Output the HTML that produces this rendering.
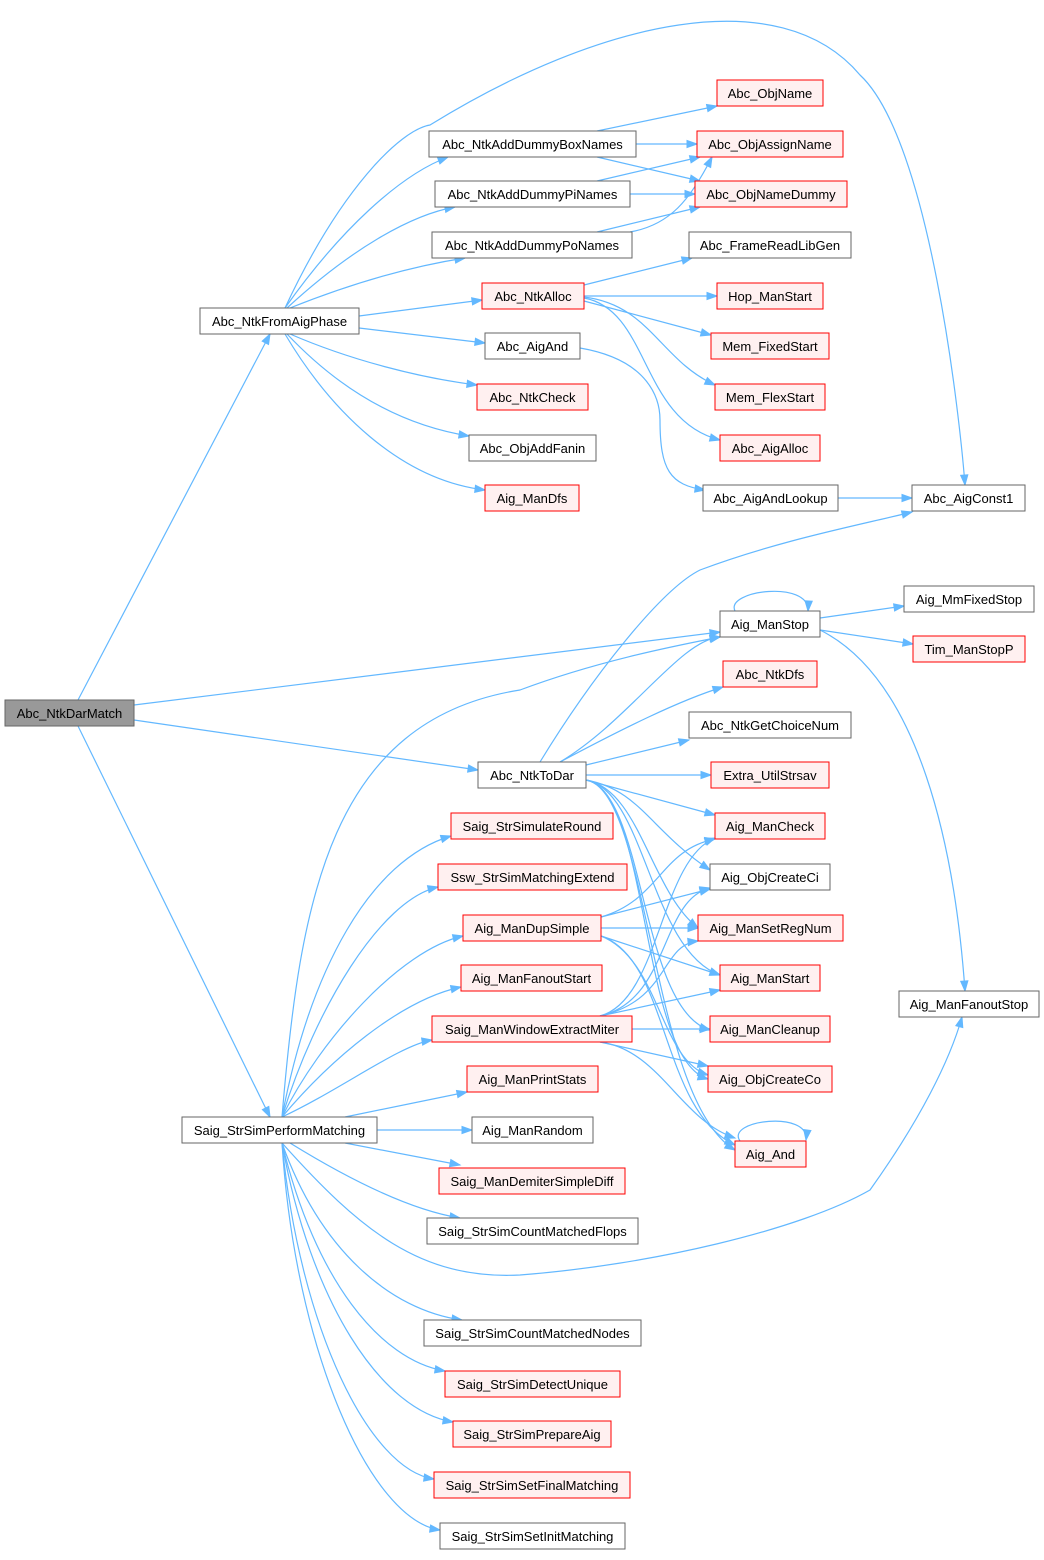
<!DOCTYPE html>
<html><head><meta charset="utf-8"><style>
html,body{margin:0;padding:0;background:#fff;}
svg text{font-family:"Liberation Sans",Arial,sans-serif;font-size:13px;}
</style></head><body>
<svg id="g" width="1044" height="1555" viewBox="0 0 1044 1555" xmlns="http://www.w3.org/2000/svg">
<g id="edges" fill="none" stroke="#63b8ff" stroke-width="1.2"></g>
<g id="heads" fill="#63b8ff" stroke="#63b8ff"></g>
<g id="nodes" stroke-width="1">
<rect x="5" y="700" width="129" height="26" fill="#999" stroke="#666"/><text x="69.5" y="718" text-anchor="middle">Abc_NtkDarMatch</text>
<rect x="200" y="308" width="159" height="26" fill="#fff" stroke="#666"/><text x="279.5" y="326" text-anchor="middle">Abc_NtkFromAigPhase</text>
<rect x="182" y="1117" width="195" height="26" fill="#fff" stroke="#666"/><text x="279.5" y="1135" text-anchor="middle">Saig_StrSimPerformMatching</text>

<rect x="429" y="131" width="207" height="26" fill="#fff" stroke="#666"/><text x="532.5" y="149" text-anchor="middle">Abc_NtkAddDummyBoxNames</text>
<rect x="435" y="181" width="195" height="26" fill="#fff" stroke="#666"/><text x="532.5" y="199" text-anchor="middle">Abc_NtkAddDummyPiNames</text>
<rect x="432" y="232" width="200" height="26" fill="#fff" stroke="#666"/><text x="532" y="250" text-anchor="middle">Abc_NtkAddDummyPoNames</text>
<rect x="482" y="283" width="102" height="26" fill="#fff0f0" stroke="#f00"/><text x="533" y="301" text-anchor="middle">Abc_NtkAlloc</text>
<rect x="485" y="333" width="95" height="26" fill="#fff" stroke="#666"/><text x="532.5" y="351" text-anchor="middle">Abc_AigAnd</text>
<rect x="477" y="384" width="111" height="26" fill="#fff0f0" stroke="#f00"/><text x="532.5" y="402" text-anchor="middle">Abc_NtkCheck</text>
<rect x="469" y="435" width="127" height="26" fill="#fff" stroke="#666"/><text x="532.5" y="453" text-anchor="middle">Abc_ObjAddFanin</text>
<rect x="485" y="485" width="94" height="26" fill="#fff0f0" stroke="#f00"/><text x="532" y="503" text-anchor="middle">Aig_ManDfs</text>
<rect x="478" y="762" width="108" height="26" fill="#fff" stroke="#666"/><text x="532" y="780" text-anchor="middle">Abc_NtkToDar</text>
<rect x="451" y="813" width="162" height="26" fill="#fff0f0" stroke="#f00"/><text x="532" y="831" text-anchor="middle">Saig_StrSimulateRound</text>
<rect x="438" y="864" width="189" height="26" fill="#fff0f0" stroke="#f00"/><text x="532.5" y="882" text-anchor="middle">Ssw_StrSimMatchingExtend</text>
<rect x="463" y="915" width="138" height="26" fill="#fff0f0" stroke="#f00"/><text x="532" y="933" text-anchor="middle">Aig_ManDupSimple</text>
<rect x="461" y="965" width="141" height="26" fill="#fff0f0" stroke="#f00"/><text x="531.5" y="983" text-anchor="middle">Aig_ManFanoutStart</text>
<rect x="432" y="1016" width="200" height="26" fill="#fff0f0" stroke="#f00"/><text x="532" y="1034" text-anchor="middle">Saig_ManWindowExtractMiter</text>
<rect x="467" y="1066" width="131" height="26" fill="#fff0f0" stroke="#f00"/><text x="532.5" y="1084" text-anchor="middle">Aig_ManPrintStats</text>
<rect x="472" y="1117" width="121" height="26" fill="#fff" stroke="#666"/><text x="532.5" y="1135" text-anchor="middle">Aig_ManRandom</text>
<rect x="439" y="1168" width="186" height="26" fill="#fff0f0" stroke="#f00"/><text x="532" y="1186" text-anchor="middle">Saig_ManDemiterSimpleDiff</text>
<rect x="427" y="1218" width="211" height="26" fill="#fff" stroke="#666"/><text x="532.5" y="1236" text-anchor="middle">Saig_StrSimCountMatchedFlops</text>
<rect x="424" y="1320" width="217" height="26" fill="#fff" stroke="#666"/><text x="532.5" y="1338" text-anchor="middle">Saig_StrSimCountMatchedNodes</text>
<rect x="445" y="1371" width="175" height="26" fill="#fff0f0" stroke="#f00"/><text x="532.5" y="1389" text-anchor="middle">Saig_StrSimDetectUnique</text>
<rect x="453" y="1421" width="158" height="26" fill="#fff0f0" stroke="#f00"/><text x="532" y="1439" text-anchor="middle">Saig_StrSimPrepareAig</text>
<rect x="434" y="1472" width="196" height="26" fill="#fff0f0" stroke="#f00"/><text x="532" y="1490" text-anchor="middle">Saig_StrSimSetFinalMatching</text>
<rect x="440" y="1523" width="185" height="26" fill="#fff" stroke="#666"/><text x="532.5" y="1541" text-anchor="middle">Saig_StrSimSetInitMatching</text>

<rect x="717" y="80" width="106" height="26" fill="#fff0f0" stroke="#f00"/><text x="770" y="98" text-anchor="middle">Abc_ObjName</text>
<rect x="697" y="131" width="146" height="26" fill="#fff0f0" stroke="#f00"/><text x="770" y="149" text-anchor="middle">Abc_ObjAssignName</text>
<rect x="695" y="181" width="152" height="26" fill="#fff0f0" stroke="#f00"/><text x="771" y="199" text-anchor="middle">Abc_ObjNameDummy</text>
<rect x="689" y="232" width="162" height="26" fill="#fff" stroke="#666"/><text x="770" y="250" text-anchor="middle">Abc_FrameReadLibGen</text>
<rect x="717" y="283" width="106" height="26" fill="#fff0f0" stroke="#f00"/><text x="770" y="301" text-anchor="middle">Hop_ManStart</text>
<rect x="711" y="333" width="118" height="26" fill="#fff0f0" stroke="#f00"/><text x="770" y="351" text-anchor="middle">Mem_FixedStart</text>
<rect x="715" y="384" width="110" height="26" fill="#fff0f0" stroke="#f00"/><text x="770" y="402" text-anchor="middle">Mem_FlexStart</text>
<rect x="720" y="435" width="100" height="26" fill="#fff0f0" stroke="#f00"/><text x="770" y="453" text-anchor="middle">Abc_AigAlloc</text>
<rect x="703" y="485" width="135" height="26" fill="#fff" stroke="#666"/><text x="770.5" y="503" text-anchor="middle">Abc_AigAndLookup</text>
<rect x="720" y="611" width="100" height="26" fill="#fff" stroke="#666"/><text x="770" y="629" text-anchor="middle">Aig_ManStop</text>
<rect x="723" y="661" width="94" height="26" fill="#fff0f0" stroke="#f00"/><text x="770" y="679" text-anchor="middle">Abc_NtkDfs</text>
<rect x="689" y="712" width="162" height="26" fill="#fff" stroke="#666"/><text x="770" y="730" text-anchor="middle">Abc_NtkGetChoiceNum</text>
<rect x="711" y="762" width="118" height="26" fill="#fff0f0" stroke="#f00"/><text x="770" y="780" text-anchor="middle">Extra_UtilStrsav</text>
<rect x="715" y="813" width="110" height="26" fill="#fff0f0" stroke="#f00"/><text x="770" y="831" text-anchor="middle">Aig_ManCheck</text>
<rect x="710" y="864" width="120" height="26" fill="#fff" stroke="#666"/><text x="770" y="882" text-anchor="middle">Aig_ObjCreateCi</text>
<rect x="698" y="915" width="145" height="26" fill="#fff0f0" stroke="#f00"/><text x="770.5" y="933" text-anchor="middle">Aig_ManSetRegNum</text>
<rect x="720" y="965" width="100" height="26" fill="#fff0f0" stroke="#f00"/><text x="770" y="983" text-anchor="middle">Aig_ManStart</text>
<rect x="710" y="1016" width="120" height="26" fill="#fff0f0" stroke="#f00"/><text x="770" y="1034" text-anchor="middle">Aig_ManCleanup</text>
<rect x="708" y="1066" width="124" height="26" fill="#fff0f0" stroke="#f00"/><text x="770" y="1084" text-anchor="middle">Aig_ObjCreateCo</text>
<rect x="735" y="1141" width="71" height="26" fill="#fff0f0" stroke="#f00"/><text x="770.5" y="1159" text-anchor="middle">Aig_And</text>

<rect x="912" y="485" width="113" height="26" fill="#fff" stroke="#666"/><text x="968.5" y="503" text-anchor="middle">Abc_AigConst1</text>
<rect x="904" y="586" width="130" height="26" fill="#fff" stroke="#666"/><text x="969" y="604" text-anchor="middle">Aig_MmFixedStop</text>
<rect x="913" y="636" width="112" height="26" fill="#fff0f0" stroke="#f00"/><text x="969" y="654" text-anchor="middle">Tim_ManStopP</text>
<rect x="899" y="991" width="140" height="26" fill="#fff" stroke="#666"/><text x="969" y="1009" text-anchor="middle">Aig_ManFanoutStop</text>
</g>
</svg>
<script>
var E=document.getElementById('edges'),H=document.getElementById('heads'),NS='http://www.w3.org/2000/svg';
function e(p){ // p: array of points, straight if 2, cubic segments otherwise
 var d='M'+p[0][0]+','+p[0][1];
 if(p.length==2){d+=' L'+p[1][0]+','+p[1][1];}
 else{for(var i=1;i+2<p.length;i+=3)d+=' C'+p[i]+' '+p[i+1]+' '+p[i+2];}
 var pa=document.createElementNS(NS,'path');pa.setAttribute('d',d);E.appendChild(pa);
 var t=p[p.length-1],s=p[p.length-2],dx=t[0]-s[0],dy=t[1]-s[1],L=Math.hypot(dx,dy)||1;dx/=L;dy/=L;
 var bx=t[0]-dx*10,by=t[1]-dy*10,nx=-dy*3.6,ny=dx*3.6;
 var pg=document.createElementNS(NS,'polygon');
 pg.setAttribute('points',t[0]+','+t[1]+' '+(bx+nx)+','+(by+ny)+' '+(bx-nx)+','+(by-ny));H.appendChild(pg);
}
// from DarMatch
e([[78,700],[270,334]]);
e([[134,705],[720,632]]);
e([[134,720],[478,770]]);
e([[78,726],[270,1117]]);
// FromAigPhase
var F=[285,308];
e([F,[340,230],[400,175],[448,157]]);
e([[287,308],[350,250],[410,215],[455,207]]);
e([[290,308],[360,280],[420,265],[465,258]]);
e([[359,316],[482,300]]);
e([[359,328],[485,343]]);
e([[290,334],[350,360],[420,378],[477,385]]);
e([[287,334],[340,390],[400,425],[469,436]]);
e([[285,334],[330,410],[400,480],[485,490]]);
e([[285,308],[340,190],[400,130],[430,125],[600,20],[780,-20],[860,75],[930,140],[960,420],[965,485]]);
// Box/Pi/Po
e([[597,131],[717,106]]);
e([[636,144],[697,144]]);
e([[597,157],[700,181]]);
e([[597,181],[700,157]]);
e([[630,194],[695,194]]);
e([[630,232],[670,225],[690,200],[712,157]]);
e([[597,232],[700,207]]);
// NtkAlloc
e([[584,285],[692,258]]);
e([[584,296],[717,296]]);
e([[584,301],[711,335]]);
e([[584,297],[650,305],[660,360],[715,385]]);
e([[584,298],[650,310],[640,420],[720,440]]);
e([[580,348],[650,360],[660,400],[660,420],[660,470],[670,485],[705,490]]);
e([[838,498],[912,498]]);
// Aig_ManStop
e([[735,611],[725,590],[810,580],[808,611]]);
e([[820,618],[904,606]]);
e([[820,630],[913,644]]);
e([[820,630],[920,680],[955,850],[965,991]]);
// NtkToDar
e([[540,762],[590,680],[660,590],[700,570],[780,540],[860,525],[912,512]]);
e([[560,762],[630,720],[680,640],[720,637]]);
e([[560,762],[620,730],[680,700],[723,687]]);
e([[586,765],[689,740]]);
e([[586,775],[711,775]]);
e([[586,780],[715,815]]);
e([[586,780],[640,790],[650,830],[710,870]]);
e([[586,780],[640,790],[650,890],[698,928]]);
e([[586,780],[645,790],[650,950],[720,975]]);
e([[586,780],[645,790],[640,1010],[710,1030]]);
e([[586,780],[650,790],[640,1060],[708,1079]]);
e([[586,780],[650,790],[650,1100],[735,1150]]);
// PerformMatching
var P=[282,1117];
e([P,[300,900],[330,720],[520,690],[600,660],[680,645],[720,637]]);
e([P,[310,970],[370,860],[451,836]]);
e([P,[315,1010],[380,900],[438,887]]);
e([P,[320,1040],[400,950],[463,936]]);
e([P,[330,1060],[400,1000],[461,987]]);
e([P,[340,1090],[400,1045],[432,1040]]);
e([[345,1117],[467,1092]]);
e([[377,1130],[472,1130]]);
e([[345,1143],[460,1165]]);
e([[290,1143],[350,1180],[410,1210],[460,1218]]);
e([P.concat?[282,1143]:P,[360,1230],[420,1280],[520,1275],[650,1265],[800,1230],[870,1190],[920,1120],[950,1060],[962,1017]]);
e([[282,1143],[320,1250],[390,1310],[462,1320]]);
e([[282,1143],[315,1280],[380,1360],[445,1371]]);
e([[282,1143],[310,1300],[380,1410],[453,1422]]);
e([[282,1143],[300,1330],[370,1470],[434,1479]]);
e([[282,1143],[295,1350],[370,1520],[440,1530]]);
// DupSimple
e([[601,917],[660,900],[660,850],[715,839]]);
e([[601,917],[710,889]]);
e([[601,928],[698,928]]);
e([[601,936],[720,975]]);
e([[601,936],[660,960],[660,1060],[708,1075]]);
e([[601,936],[670,960],[660,1110],[735,1145]]);
// WindowExtractMiter
e([[600,1016],[660,1000],[660,860],[715,838]]);
e([[600,1016],[670,1000],[660,900],[710,888]]);
e([[600,1016],[670,1000],[660,945],[698,941]]);
e([[600,1016],[720,990]]);
e([[632,1029],[710,1029]]);
e([[600,1042],[708,1066]]);
e([[600,1042],[660,1050],[680,1120],[735,1138]]);
// Aig_And self
e([[740,1141],[725,1120],[810,1110],[806,1140]]);
</script>
</body></html>
